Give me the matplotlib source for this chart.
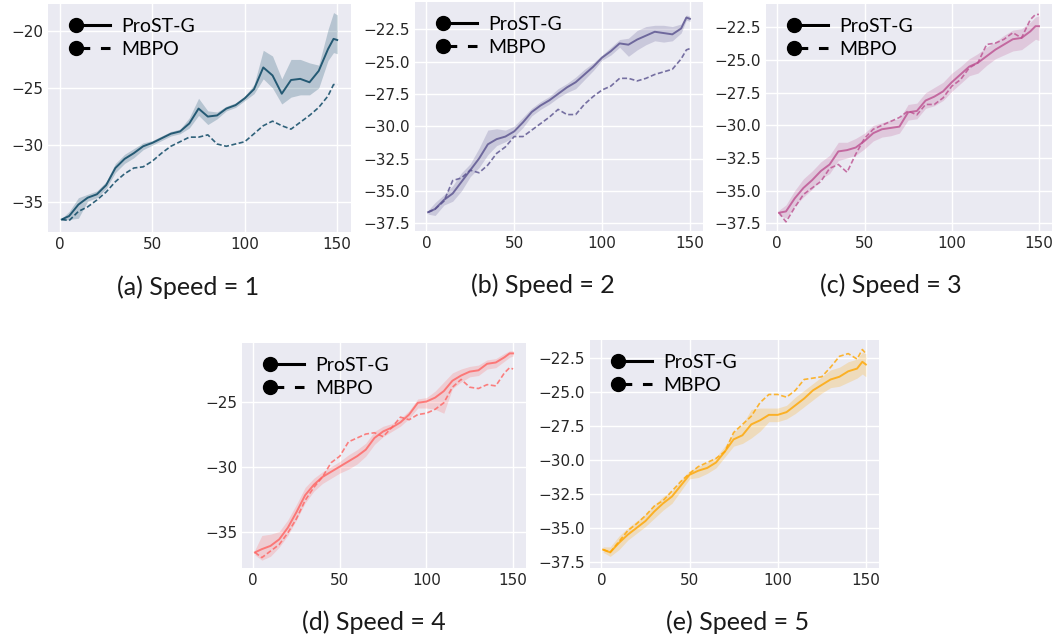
import matplotlib
matplotlib.use("Agg")
import matplotlib.pyplot as plt
from matplotlib.lines import Line2D
from matplotlib.legend_handler import HandlerLine2D
from matplotlib.ticker import MultipleLocator
from matplotlib.transforms import ScaledTranslation

# training steps shared by all panels
steps = [1, 5, 10, 15, 20, 25, 30, 35, 40, 45, 50, 55, 60, 65, 70, 75, 80,
         85, 90, 95, 100, 105, 110, 115, 120, 125, 130, 135, 140, 145, 148, 150]

# speed = 1
s1_mean = [-36.5, -36.2, -35.2, -34.6, -34.3, -33.5, -32.0, -31.2, -30.7, -30.1, -29.8,
           -29.4, -29.0, -28.8, -28.1, -26.8, -27.5, -27.4, -26.8, -26.5, -25.9, -25.1,
           -23.2, -23.9, -25.5, -24.3, -24.2, -24.5, -23.5, -21.6, -20.7, -20.8]
s1_hi = [-36.4, -35.8, -34.6, -34.3, -34.0, -33.2, -31.6, -30.8, -30.3, -29.8, -29.6,
         -29.2, -28.8, -28.6, -27.6, -25.9, -27.0, -27.1, -26.6, -26.3, -25.7, -24.7,
         -21.7, -22.2, -24.2, -22.5, -22.5, -22.8, -23.0, -19.9, -18.4, -18.6]
s1_lo = [-36.6, -36.5, -36.4, -34.9, -34.6, -33.8, -32.4, -31.6, -31.1, -30.4, -30.0,
         -29.6, -29.2, -29.0, -28.5, -27.4, -28.2, -27.7, -27.0, -26.7, -26.1, -25.5,
         -24.2, -25.0, -26.4, -25.8, -25.6, -25.6, -25.0, -22.6, -21.9, -22.0]
s1_mbpo = [-36.5, -36.6, -35.8, -35.4, -34.8, -34.1, -33.2, -32.5, -32.0, -31.9, -31.4,
           -30.7, -30.1, -29.7, -29.3, -29.3, -29.1, -29.9, -30.1, -29.9, -29.7, -29.0,
           -28.3, -27.9, -28.3, -28.6, -28.0, -27.4, -26.7, -25.7, -24.7, -24.7]

# speed = 2
s2_mean = [-36.65, -36.4, -35.7, -35.2, -34.3, -33.4, -32.5, -31.4, -31.0, -30.8, -30.4,
           -29.7, -28.9, -28.4, -28.0, -27.5, -27.0, -26.6, -26.0, -25.4, -24.7, -24.2,
           -23.6, -23.7, -23.3, -23.0, -22.7, -22.8, -22.9, -22.45, -21.6, -21.7]
s2_hi = [-36.5, -35.9, -35.3, -34.6, -33.6, -32.9, -31.7, -30.3, -30.2, -30.3, -30.0,
         -29.3, -28.6, -28.1, -27.7, -27.1, -26.7, -26.2, -25.6, -25.1, -24.5, -23.9,
         -23.3, -23.2, -22.6, -22.3, -22.2, -22.2, -22.3, -22.1, -21.4, -21.5]
s2_lo = [-36.8, -36.9, -36.1, -35.8, -35.0, -33.9, -33.2, -32.2, -31.5, -31.2, -30.8,
         -30.1, -29.2, -28.7, -28.3, -27.8, -27.4, -27.1, -26.4, -25.7, -24.9, -24.5,
         -23.9, -24.6, -24.1, -23.7, -23.4, -23.5, -23.4, -22.8, -21.8, -21.9]
s2_mbpo = [-36.65, -36.4, -35.8, -34.2, -34.0, -33.4, -33.6, -33.0, -32.1, -31.6, -30.8,
           -30.8, -30.3, -29.8, -29.3, -28.7, -29.1, -29.1, -28.3, -27.7, -27.2, -26.9,
           -26.3, -26.3, -26.5, -26.3, -26.0, -25.8, -25.6, -24.8, -24.1, -24.0]

# speed = 3
s3_mean = [-36.7, -36.6, -35.6, -34.8, -34.2, -33.5, -33.0, -32.0, -31.9, -31.7, -31.2,
           -30.6, -30.3, -30.2, -30.1, -29.0, -28.9, -28.1, -27.8, -27.4, -26.7, -26.1,
           -25.5, -25.2, -24.7, -24.2, -23.8, -23.4, -23.3, -22.8, -22.4, -22.4]
s3_hi = [-36.5, -36.1, -35.0, -34.1, -33.5, -32.8, -32.3, -31.3, -31.3, -31.0, -30.6,
         -30.0, -29.8, -29.6, -29.5, -28.4, -28.3, -27.5, -27.1, -26.7, -26.0, -25.5,
         -24.9, -24.5, -24.0, -23.6, -23.1, -22.7, -22.6, -22.1, -21.7, -21.6]
s3_lo = [-36.9, -37.1, -36.2, -35.5, -34.9, -34.1, -33.7, -32.7, -32.5, -32.3, -31.8,
         -31.2, -30.9, -30.8, -30.6, -29.6, -29.5, -28.7, -28.5, -28.1, -27.4, -26.8,
         -26.2, -26.0, -25.4, -24.9, -24.6, -24.3, -24.2, -23.7, -23.4, -23.5]
s3_mbpo = [-36.7, -37.4, -36.3, -35.3, -34.8, -34.3, -33.3, -33.0, -33.6, -32.2, -31.0,
           -30.3, -30.0, -29.7, -29.4, -28.9, -29.2, -28.4, -28.4, -27.9, -27.0, -26.5,
           -25.6, -25.2, -23.8, -23.7, -23.4, -22.9, -23.3, -21.9, -21.5, -21.5]

# speed = 4
s4_mean = [-36.6, -36.35, -36.1, -35.6, -34.7, -33.5, -32.2, -31.4, -30.8, -30.4, -30.0,
           -29.6, -29.2, -28.7, -27.8, -27.3, -27.0, -26.6, -26.0, -25.1, -25.0, -24.7,
           -24.2, -23.4, -23.0, -22.7, -22.6, -22.1, -22.0, -21.6, -21.3, -21.3]
s4_hi = [-36.4, -35.3, -35.2, -35.0, -34.1, -32.9, -31.6, -30.9, -30.4, -30.0, -29.6,
         -29.1, -28.7, -28.2, -27.3, -26.9, -26.7, -26.3, -25.7, -24.8, -24.7, -24.2,
         -23.5, -22.8, -22.5, -22.3, -22.2, -21.8, -21.7, -21.3, -21.1, -21.1]
s4_lo = [-36.8, -37.2, -36.9, -36.2, -35.3, -34.1, -32.8, -31.9, -31.3, -30.9, -30.5,
         -30.2, -29.8, -29.2, -28.3, -27.7, -27.3, -26.9, -26.3, -25.5, -25.5, -25.6,
         -25.9, -24.0, -23.5, -23.1, -23.0, -22.5, -22.4, -21.9, -21.6, -21.5]
s4_mbpo = [-36.6, -37.0, -36.5, -36.0, -35.1, -34.0, -32.6, -31.6, -30.8, -29.7, -29.2,
           -28.1, -27.8, -27.5, -27.4, -27.7, -27.0, -26.2, -26.4, -26.0, -25.9, -25.6,
           -25.1, -23.9, -23.3, -23.9, -24.0, -23.7, -23.8, -22.8, -22.4, -22.5]

# speed = 5
s5_mean = [-36.6, -36.8, -36.1, -35.5, -35.0, -34.5, -33.8, -33.2, -32.7, -31.9, -31.1,
           -30.8, -30.6, -30.2, -29.4, -28.5, -28.2, -27.4, -27.1, -26.7, -26.7, -26.5,
           -26.0, -25.5, -24.9, -24.5, -24.1, -23.9, -23.5, -23.3, -22.8, -23.0]
s5_hi = [-36.4, -36.4, -35.6, -35.0, -34.5, -34.0, -33.3, -32.7, -32.3, -31.5, -30.8,
         -30.5, -30.2, -29.8, -29.0, -28.0, -27.4, -26.3, -26.2, -26.2, -26.2, -26.0,
         -25.4, -24.9, -24.4, -23.9, -23.4, -23.2, -22.8, -22.6, -22.1, -22.2]
s5_lo = [-36.8, -37.1, -36.6, -35.9, -35.4, -34.9, -34.3, -33.7, -33.2, -32.3, -31.4,
         -31.3, -31.0, -30.6, -29.8, -29.0, -28.8, -28.4, -27.9, -27.2, -27.2, -27.0,
         -26.6, -26.1, -25.6, -25.1, -24.7, -24.6, -24.3, -24.0, -23.7, -23.9]
s5_mbpo = [-36.6, -36.8, -36.0, -35.2, -34.7, -34.1, -33.4, -33.0, -32.3, -31.6, -31.0,
           -30.5, -30.2, -29.9, -29.4, -28.0, -27.4, -26.8, -25.8, -25.2, -25.2, -25.4,
           -24.9, -24.1, -24.0, -23.9, -23.2, -22.4, -22.2, -22.6, -21.9, -22.2]

captions = ["(a) Speed = 1", "(b) Speed = 2", "(c) Speed = 3", "(d) Speed = 4", "(e) Speed = 5"]
colors = ["#003f5c", "#58508d", "#bc5090", "#ff6361", "#ffa600"]


class LeftMarkerHandler(HandlerLine2D):
    # keep only the marker at the left end of the legend line
    def create_artists(self, legend, orig_handle, xdescent, ydescent, width, height,
                       fontsize, trans):
        artists = super().create_artists(legend, orig_handle, xdescent, ydescent,
                                         width, height, fontsize, trans)
        for a in artists:
            a.set_markevery([0])
        return artists


plt.rcParams.update({
    "axes.facecolor": "#EAEAF2",
    "axes.edgecolor": "white",
    "axes.grid": True,
    "axes.axisbelow": True,
    "grid.color": "white",
    "grid.linewidth": 1.0,
    "xtick.major.size": 0,
    "ytick.major.size": 0,
    "xtick.color": "#262626",
    "ytick.color": "#262626",
    "xtick.labelsize": 11,
    "ytick.labelsize": 11,
})

fig = plt.figure(figsize=(10.6, 6.39), dpi=100)
W, H = 1060, 639

# left, top, right, bottom in pixels
boxes = [(48, 4, 351, 232), (415, 2, 703, 231), (766, 4, 1052, 231),
         (242, 343, 526, 568), (590, 340, 879, 568)]
ylims = [(-37.6, -17.65), (-38.1, -20.4), (-38.1, -20.7), (-37.8, -20.5), (-37.95, -21.2)]
ysteps = [5, 2.5, 2.5, 5, 2.5]
caption_pos = [(188, 287), (543, 285), (891, 285), (374, 622), (738, 622)]

panels = [
    (s1_mean, s1_lo, s1_hi, s1_mbpo),
    (s2_mean, s2_lo, s2_hi, s2_mbpo),
    (s3_mean, s3_lo, s3_hi, s3_mbpo),
    (s4_mean, s4_lo, s4_hi, s4_mbpo),
    (s5_mean, s5_lo, s5_hi, s5_mbpo),
]

legend_handles = [
    Line2D([], [], color="black", lw=2.2, marker="o", markersize=10),
    Line2D([], [], color="black", lw=2.2, dashes=(4.5, 3.5), marker="o", markersize=10),
]

for i, (mean, lo, hi, mbpo) in enumerate(panels):
    l, t, r, b = boxes[i]
    ax = fig.add_axes([l / W, 1 - b / H, (r - l) / W, (b - t) / H])
    c = colors[i]
    ax.fill_between(steps, lo, hi, color=c, alpha=0.22, lw=0)
    ax.plot(steps, mean, color=c, lw=1.4, alpha=0.8)
    ax.plot(steps, mbpo, color=c, lw=1.2, alpha=0.8, ls="--", dashes=(3, 1.5))
    ax.set_xlim(-6.45, 157.45)
    ax.set_ylim(*ylims[i])
    ax.xaxis.set_major_locator(MultipleLocator(50))
    ax.yaxis.set_major_locator(MultipleLocator(ysteps[i]))
    for s in ax.spines.values():
        s.set_visible(False)
    off = ScaledTranslation(14 / 100, -6 / 100, fig.dpi_scale_trans)
    ax.legend(legend_handles, ["ProST-G", "MBPO"], loc="upper left",
              bbox_to_anchor=(0, 1), bbox_transform=ax.transAxes + off,
              borderaxespad=0, frameon=False, numpoints=2, handlelength=2.35,
              handletextpad=0.32, labelspacing=0.3,
              handler_map={Line2D: LeftMarkerHandler()},
              prop={"family": "Lato", "size": 14})
    cx, cy = caption_pos[i]
    fig.text(cx / W, 1 - cy / H, captions[i], ha="center", va="center",
             fontsize=18, family="Lato", color="#1a1a1a")

fig.savefig("out.png", dpi=100)
